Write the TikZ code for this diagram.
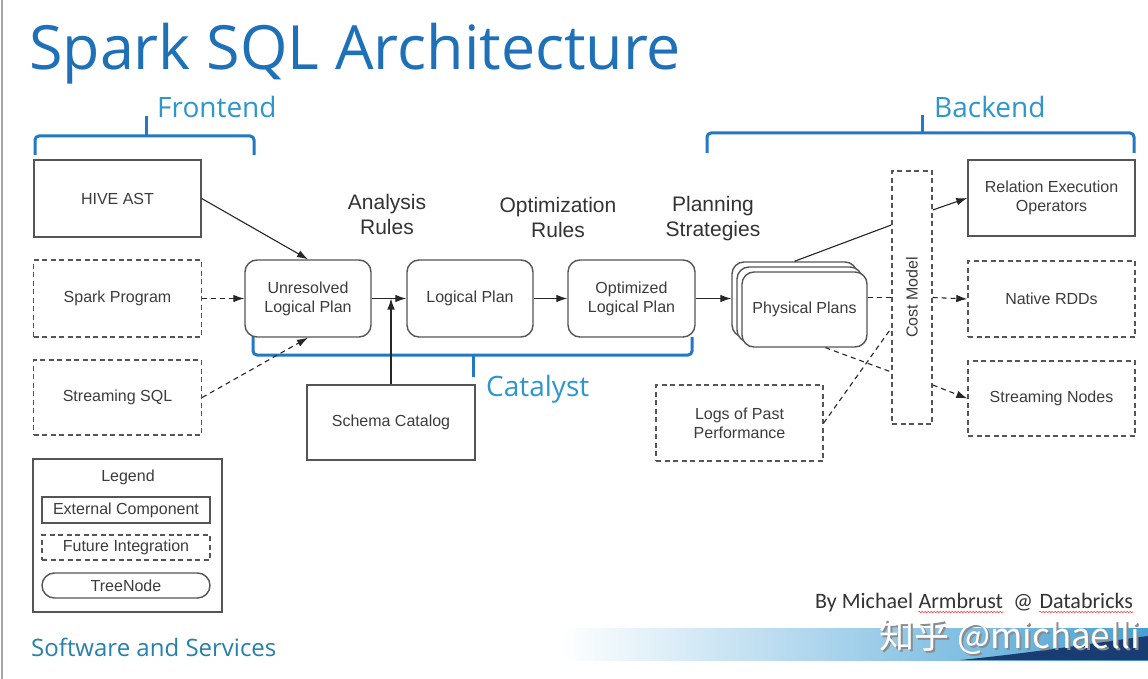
\documentclass[tikz,border=0pt]{standalone}
\usepackage{fontspec}
\setmainfont{Liberation Sans}
\newfontfamily\segoe{Open Sans}
\newfontfamily\calib{Carlito}
\newfontfamily\cjk{Noto Sans CJK SC}
\usetikzlibrary{arrows.meta,calc,decorations.pathmorphing}
\definecolor{boxline}{RGB}{85,85,85}
\definecolor{boxtext}{RGB}{60,60,60}
\definecolor{titleblue}{RGB}{30,112,184}
\definecolor{lblblue}{RGB}{45,150,205}
\definecolor{brblue}{RGB}{35,120,195}
\definecolor{bandblue}{RGB}{70,160,212}
\definecolor{swoosh}{RGB}{25,60,115}
\tikzset{
  basebox/.style={draw=boxline, line width=1.4pt, inner sep=0pt, align=center,
    text=boxtext, font=\fontsize{16}{19}\selectfont, fill=white},
  extbox/.style={basebox},
  futbox/.style={basebox, dash pattern=on 5pt off 3.5pt},
  treebox/.style={basebox, rounded corners=12pt},
  arr/.style={draw=black!85, line width=1.1pt, -{Latex[length=11pt,width=7.5pt]}},
  lne/.style={draw=black!85, line width=1.1pt},
  dsh/.style={dash pattern=on 5pt off 4pt},
  bracket/.style={draw=brblue, line width=3pt, rounded corners=4pt},
  rulelbl/.style={align=center, text=black!80, font=\fontsize{21}{25}\selectfont},
  bluelbl/.style={anchor=base west, inner sep=0pt, text=lblblue, font=\segoe\fontsize{28}{32}\selectfont},
  credit/.style={anchor=base west, inner sep=0pt, text=black!80, font=\calib\fontsize{22}{26}\selectfont},
  wavy/.style={red!75, line width=0.6pt, decorate, decoration={snake, amplitude=0.8pt, segment length=3pt}}
}
\begin{document}
\begin{tikzpicture}[x=1pt,y=-1pt]
\fill[white] (0,0) rectangle (1148,679);
\useasboundingbox (0,0) rectangle (1148,679);
\draw[gray!70, line width=1.5pt] (2,0) -- (2,679);

% watermark band
\shade[left color=white, right color=bandblue] (560,628) rectangle (1148,660);
\fill[swoosh] (960,660) .. controls (1040,652) and (1100,642) .. (1148,636) -- (1148,660) -- cycle;

% title
\node[anchor=base west, inner sep=0pt, text=titleblue, font=\segoe\fontsize{61}{70}\selectfont] (title) at (29,70) {Spark SQL Architecture};

% brackets and labels
\draw[bracket] (35,155) -- (35,136) -- (254,136) -- (254,155);
\draw[bracket] (146,136) -- (146,116);
\node[bluelbl] (front) at (157,118) {Frontend};
\draw[bracket] (707,153) -- (707,133) -- (1134,133) -- (1134,153);
\draw[bracket] (922,133) -- (922,115);
\node[bluelbl] (back) at (934,118) {Backend};

% frontend boxes
\node[extbox, minimum width=167pt, minimum height=77pt] (hive) at (117.5,198.5) {HIVE AST};
\node[futbox, minimum width=168pt, minimum height=77pt] (spark) at (117.5,298.5) {Spark Program};
\node[futbox, minimum width=168pt, minimum height=75pt] (stream) at (117.5,397.5) {Streaming SQL};

% catalyst
\node[treebox, minimum width=126pt, minimum height=77pt] (unres) at (308,298.5) {Unresolved\\Logical Plan};
\node[treebox, minimum width=126pt, minimum height=77pt] (logical) at (470,298.5) {Logical Plan};
\node[treebox, minimum width=127pt, minimum height=77pt] (optim) at (631.5,298.5) {Optimized\\Logical Plan};
\draw[bracket] (253,337) -- (253,355) -- (692,355) -- (692,337);
\draw[bracket] (473,355) -- (473,377);
\node[bluelbl] (cat) at (486,396) {Catalyst};
\node[extbox, minimum width=168pt, minimum height=75pt] (schema) at (391,422.5) {Schema Catalog};

\node[rulelbl] (ana) at (387,214) {Analysis\\Rules};
\node[rulelbl] (opt) at (558,217.5) {Optimization\\Rules};
\node[rulelbl] (plan) at (713,218.5) {Planning\\Strategies};

% physical plans
\node[treebox, minimum width=125pt, minimum height=75pt] (p1) at (794.5,299.5) {};
\node[treebox, minimum width=125pt, minimum height=75pt] (p2) at (799.5,304.5) {};
\node[treebox, minimum width=125pt, minimum height=75pt] (p3) at (804.5,309.5) {Physical Plans};

% cost model
\node[futbox, minimum width=40pt, minimum height=253pt, fill=none] (cost) at (912,297.5) {};
\node[rotate=90, text=boxtext, font=\fontsize{16}{19}\selectfont] (costlbl) at (cost.center) {Cost Model};

% backend boxes
\node[extbox, minimum width=167pt, minimum height=76pt] (rel) at (1051.5,198) {Relation Execution\\Operators};
\node[futbox, minimum width=167pt, minimum height=76pt] (rdd) at (1051.5,299) {Native RDDs};
\node[futbox, minimum width=167pt, minimum height=75pt] (snodes) at (1051.5,398.5) {Streaming Nodes};
\node[futbox, minimum width=167pt, minimum height=76pt] (logs) at (739.5,423) {Logs of Past\\Performance};

% connectors
\draw[arr] (hive.east) -- (unres.north);
\draw[arr, dsh] (spark.east) -- (unres.west);
\draw[arr, dsh] (stream.east) -- (unres.south);
\draw[arr] (unres.east) -- (logical.west);
\draw[arr] (schema.north) -- (schema.north |- unres.east);
\draw[arr] (logical.east) -- (optim.west);
\draw[arr] (optim.east) -- (optim.east -| p1.west);

\coordinate (cA) at (cost.west |- 0,225);
\coordinate (cB) at (cost.east |- 0,210);
\coordinate (cC) at (cost.west |- 0,372);
\coordinate (cD) at (cost.east |- 0,385);
\coordinate (cE) at (cost.west |- 0,328);
\coordinate (pb) at ($(p3.south)+(21,0)$);
\draw[lne] (p1.north) -- (cA);
\draw[arr] (cB) -- (rel.west);
\draw[lne, dsh] (p3.east |- cost.west) -- (cost.west);
\draw[arr, dsh] (cost.east) -- (rdd.west);
\draw[lne, dsh] (pb) -- (cC);
\draw[arr, dsh] (cD) -- (snodes.west);
\draw[lne, dsh] (logs.east) -- (cE);

% legend
\node[draw=boxline, line width=1.4pt, minimum width=189pt, minimum height=153pt, inner sep=0pt] (legend) at (127.5,535.5) {};
\node[text=boxtext, font=\fontsize{16}{19}\selectfont] (legtitle) at (128,477) {Legend};
\node[extbox, minimum width=168pt, minimum height=26pt] (lext) at (126,510) {External Component};
\node[futbox, minimum width=168pt, minimum height=25pt] (lfut) at (126,547.5) {Future Integration};
\node[treebox, rounded corners=12.5pt, minimum width=168pt, minimum height=25pt] (ltree) at (126,585.5) {TreeNode};

\node[anchor=base west, inner sep=0pt, text=lblblue!85!black, font=\segoe\fontsize{24}{28}\selectfont] (sws) at (31,656) {Software and Services};

% credit
\node[credit] (cr1) at (815,608) {By Michael};
\node[credit] (cr2) at ($(cr1.base east)+(5,0)$) {Armbrust};
\node[credit] (cr3) at ($(cr2.base east)+(10,0)$) {@};
\node[credit] (cr4) at ($(cr3.base east)+(6,0)$) {Databricks};
\draw[wavy] ($(cr2.base west)+(0,4)$) -- ($(cr2.base east)+(0,4)$);
\draw[wavy] ($(cr4.base west)+(0,4)$) -- ($(cr4.base east)+(0,4)$);

% watermark
\node[anchor=base west, inner sep=0pt, text=black!45, font=\cjk\fontsize{35}{40}\selectfont] (wmshadow) at (881,650) {知乎 @michaelli};
\node[anchor=base west, inner sep=0pt, text=white, font=\cjk\fontsize{35}{40}\selectfont] (wm) at (879,648) {知乎 @michaelli};
\end{tikzpicture}
\end{document}
